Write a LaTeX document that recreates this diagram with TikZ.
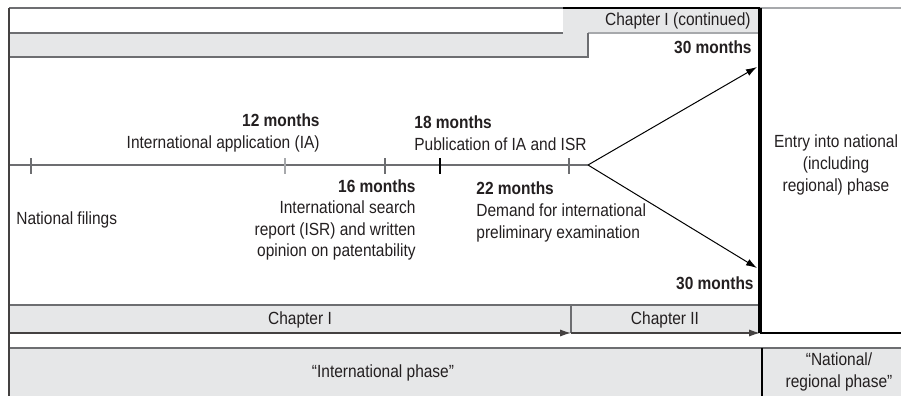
\documentclass[tikz,border=0pt]{standalone}
\usepackage{fontspec}
\setmainfont{Liberation Sans}[FakeStretch=0.88]
\usetikzlibrary{arrows.meta}
\definecolor{bandfill}{HTML}{E6E7E8}
\definecolor{rulegray}{HTML}{6D6E71}
\definecolor{softgray}{HTML}{A7A9AC}
\definecolor{inkdark}{HTML}{231F20}

\begin{document}
\begin{tikzpicture}[
  x=0.5pt, y=-0.5pt,
  font=\fontsize{8.8}{10.8}\selectfont,
  every node/.style={inner sep=0pt, text=inkdark},
  lbl/.style={align=left, anchor=west},
  lblr/.style={align=right, anchor=east},
  lblc/.style={align=center},
  rule/.style={draw=rulegray, line width=0.6pt},
  softrule/.style={draw=softgray, line width=0.6pt},
  >={Latex[length=5.5pt, width=3.6pt]}
]
\useasboundingbox (0,0) rectangle (901,396);

% bands
\fill[bandfill] (9,33) -- (563,33) -- (563,8) -- (760,8) -- (760,33) -- (588,33) -- (588,57) -- (9,57) -- cycle;
\fill[bandfill] (9,305) rectangle (760,333);
\fill[bandfill] (9,348) rectangle (901,396);

\draw[rule] (9,8) -- (563,8);
\draw[black, line width=1.1pt] (563,8) -- (760,8);
\draw[softrule] (760,8) -- (901,8);
\draw[rule] (9,33) -- (563,33);
\draw[softrule] (588,33) -- (760,33);
\draw[rule] (588,33) -- (588,57) -- (9,57);

% time line
\coordinate (t0) at (9,165);
\coordinate (apex) at (588,165);
\coordinate (up30) at (757,67);
\coordinate (dn30) at (757,268);
\draw[rule] (t0) -- (apex);
\foreach \tx/\tc in {31/rulegray, 285/softgray, 385/rulegray, 440/black, 569/rulegray}
  \draw[\tc, line width=0.6pt] (\tx,158) -- (\tx,174);
\draw[->, black, line width=0.5pt] (apex) -- (up30);
\draw[->, black, line width=0.5pt] (apex) -- (dn30);

% chapters
\coordinate (chS) at (9,333);
\coordinate (chM) at (571,333);
\coordinate (chE) at (760,333);
\coordinate (chR) at (901,333);
\coordinate (nTop) at (760,8);
\draw[rule] (9,305) -- (760,305);
\draw[rule] (571,305) -- (chM);
\draw[->, rule, draw=inkdark!85] (chS) -- (chM);
\draw[->, rule, draw=inkdark!85] (chM) -- (chE);
\draw[black, line width=0.6pt] (chE) -- (chR);
\draw[black, line width=1.6pt] (nTop) -- (chE);

\draw[rule] (9,348) -- (901,348);
\draw[black, line width=0.6pt] (762,348) -- (762,396);
\draw[rule, draw=inkdark!85] (9,8) -- (9,396);

% labels
\node[lblr] (chIc) at (751,21) {Chapter I (continued)};
\node[lblr, font=\fontsize{8.8}{10.8}\selectfont\bfseries] (m30a) at (752,47) {30 months};
\node[lblr, font=\fontsize{8.8}{10.8}\selectfont\bfseries] (m30b) at (754,283) {30 months};
\node[lblr] (m12) at (320,133) {\textbf{12 months}\\International application (IA)};
\node[lbl] (m18) at (414,133) {\textbf{18 months}\\Publication of IA and ISR};
\node[lblr] (m16) at (416,220) {\textbf{16 months}\\International search\\report (ISR) and written\\opinion on patentability};
\node[lbl] (m22) at (476,212) {\textbf{22 months}\\Demand for international\\preliminary examination};
\node[lbl] (natf) at (16,220) {National filings};
\node[lblc] (entry) at (836,165) {Entry into national\\(including\\regional) phase};
\node (chI) at (300,320) {Chapter I};
\node (chII) at (665,320) {Chapter II};
\node (intl) at (383,373) {``International phase''};
\node[lblc] (natph) at (839,372) {``National/\\regional phase''};
\end{tikzpicture}
\end{document}
